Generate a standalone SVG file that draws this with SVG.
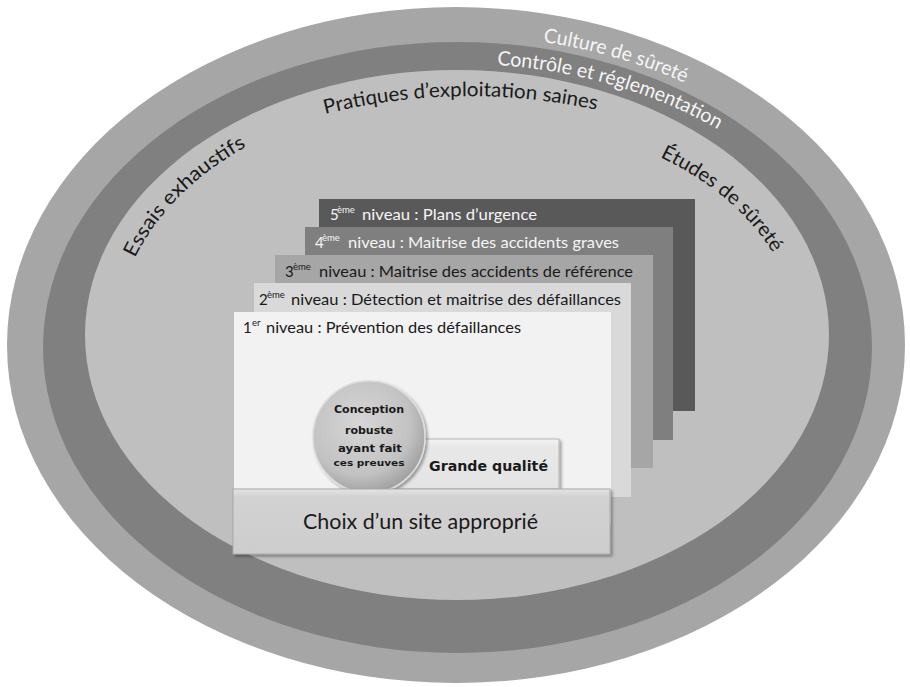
<svg xmlns="http://www.w3.org/2000/svg" width="910" height="687" viewBox="0 0 910 687">
  <style>
    .lvl { font-family: Lato, "Liberation Sans", sans-serif; font-size: 15px; }
    .sup { font-family: Lato, "Liberation Sans", sans-serif; font-size: 9.5px; }
    .ring { font-family: Lato, "Open Sans", sans-serif; font-size: 20px; }
    .circ { font-family: "DejaVu Sans", Verdana, sans-serif; font-weight: bold; fill: #1a1a1a; }
    .dark { fill: #1a1a1a; }
    .light { fill: #f5f5f5; }
  </style>
  <defs>
    <path id="pEssais" d="M 135 258 A 340 240 0 0 1 457 95"/>
    <path id="pPratiques" d="M 325 114 Q 462 80 602 111"/>
    <path id="pEtudes" d="M 660 157 A 340 222 0 0 1 797 335"/>
    <path id="pCulture" d="M 543 42 A 430 311 0 0 1 887 347"/>
    <path id="pControle" d="M 497 65 A 408 284 0 0 1 865 347"/>
    <radialGradient id="gCircle" cx="0.42" cy="0.38" r="0.65">
      <stop offset="0" stop-color="#d6d6d6"/>
      <stop offset="0.7" stop-color="#c2c2c2"/>
      <stop offset="1" stop-color="#9e9e9e"/>
    </radialGradient>
    <linearGradient id="gChoix" x1="0" y1="0" x2="0" y2="1">
      <stop offset="0" stop-color="#e4e4e4"/>
      <stop offset="0.12" stop-color="#d2d2d2"/>
      <stop offset="1" stop-color="#cdcdcd"/>
    </linearGradient>
    <linearGradient id="gGrande" x1="0" y1="0" x2="0" y2="1">
      <stop offset="0" stop-color="#f4f4f4"/>
      <stop offset="0.15" stop-color="#e8e8e8"/>
      <stop offset="1" stop-color="#e4e4e4"/>
    </linearGradient>
    <filter id="shadow" x="-10%" y="-10%" width="125%" height="130%">
      <feDropShadow dx="2" dy="2" stdDeviation="1.5" flood-color="#000" flood-opacity="0.35"/>
    </filter>
  </defs>

  <g id="rings">
    <ellipse id="ring-culture" cx="456" cy="345" rx="449" ry="338" fill="#a6a6a6"/>
    <ellipse id="ring-controle" cx="457.5" cy="347.5" rx="414.5" ry="305.5" fill="#808080"/>
    <ellipse id="ring-pratiques" cx="457" cy="335" rx="372" ry="265" fill="#bfbfbf"/>
  </g>

  <g id="ring-labels">
    <text class="ring light"><textPath href="#pCulture" textLength="148" lengthAdjust="spacingAndGlyphs">Culture de sûreté</textPath></text>
    <text class="ring light"><textPath href="#pControle" textLength="232" lengthAdjust="spacingAndGlyphs">Contrôle et réglementation</textPath></text>
    <text class="ring dark"><textPath href="#pPratiques" textLength="274" lengthAdjust="spacingAndGlyphs">Pratiques d’exploitation saines</textPath></text>
    <text class="ring dark"><textPath href="#pEssais" textLength="160" lengthAdjust="spacingAndGlyphs">Essais exhaustifs</textPath></text>
    <text class="ring dark"><textPath href="#pEtudes" textLength="150" lengthAdjust="spacingAndGlyphs">Études de sûreté</textPath></text>
  </g>

  <g id="level5">
    <rect x="319" y="199" width="376" height="212" fill="#595959"/>
    <text class="lvl light" x="330" y="220">5</text>
    <text class="sup light" x="337" y="213">ème</text>
    <text class="lvl light" x="362" y="220" textLength="175" lengthAdjust="spacingAndGlyphs">niveau : Plans d’urgence</text>
  </g>
  <g id="level4">
    <rect x="305" y="227" width="368" height="213" fill="#7f7f7f"/>
    <text class="lvl light" x="315" y="248">4</text>
    <text class="sup light" x="322" y="241">ème</text>
    <text class="lvl light" x="348" y="248" textLength="271" lengthAdjust="spacingAndGlyphs">niveau : Maitrise des accidents graves</text>
  </g>
  <g id="level3">
    <rect x="275" y="255" width="378" height="213" fill="#a6a6a6"/>
    <text class="lvl dark" x="285" y="277">3</text>
    <text class="sup dark" x="293" y="270">ème</text>
    <text class="lvl dark" x="319" y="277" textLength="314" lengthAdjust="spacingAndGlyphs">niveau : Maitrise des accidents de référence</text>
  </g>
  <g id="level2">
    <rect x="254" y="283" width="377" height="214" fill="#d9d9d9"/>
    <text class="lvl dark" x="259" y="305">2</text>
    <text class="sup dark" x="267" y="298">ème</text>
    <text class="lvl dark" x="291" y="305" textLength="330" lengthAdjust="spacingAndGlyphs">niveau : Détection et maitrise des défaillances</text>
  </g>
  <g id="level1">
    <rect x="234" y="312" width="377" height="213" fill="#f2f2f2"/>
    <text class="lvl dark" x="243" y="333">1</text>
    <text class="sup dark" x="252" y="326">er</text>
    <text class="lvl dark" x="266" y="333" textLength="255" lengthAdjust="spacingAndGlyphs">niveau : Prévention des défaillances</text>
  </g>

  <g id="grande-qualite">
    <rect x="392" y="439" width="167" height="50" fill="url(#gGrande)" stroke="#b5b5b5" stroke-width="1" filter="url(#shadow)"/>
    <text x="429" y="471" font-family="'DejaVu Sans', Verdana, sans-serif" font-weight="bold" font-size="14" fill="#1a1a1a" textLength="119" lengthAdjust="spacingAndGlyphs">Grande qualité</text>
  </g>

  <g id="conception">
    <circle cx="369" cy="437" r="56" fill="url(#gCircle)" stroke="#dcdcdc" stroke-width="1.5" filter="url(#shadow)"/>
    <text class="circ" x="369" y="413" font-size="11" text-anchor="middle" textLength="70" lengthAdjust="spacingAndGlyphs">Conception</text>
    <text class="circ" x="369" y="434" font-size="10.5" text-anchor="middle" textLength="48" lengthAdjust="spacingAndGlyphs">robuste</text>
    <text class="circ" x="370" y="452" font-size="11" text-anchor="middle" textLength="64" lengthAdjust="spacingAndGlyphs">ayant  fait</text>
    <text class="circ" x="369" y="466" font-size="9" text-anchor="middle" textLength="71" lengthAdjust="spacingAndGlyphs">ces preuves</text>
  </g>

  <g id="choix-site">
    <rect x="233" y="489" width="377" height="65" fill="url(#gChoix)" stroke="#a8a8a8" stroke-width="1" filter="url(#shadow)"/>
    <text x="303" y="529" font-family="Lato, 'Liberation Sans', sans-serif" font-size="21" fill="#1a1a1a" textLength="235" lengthAdjust="spacingAndGlyphs">Choix d’un site approprié</text>
  </g>
</svg>
